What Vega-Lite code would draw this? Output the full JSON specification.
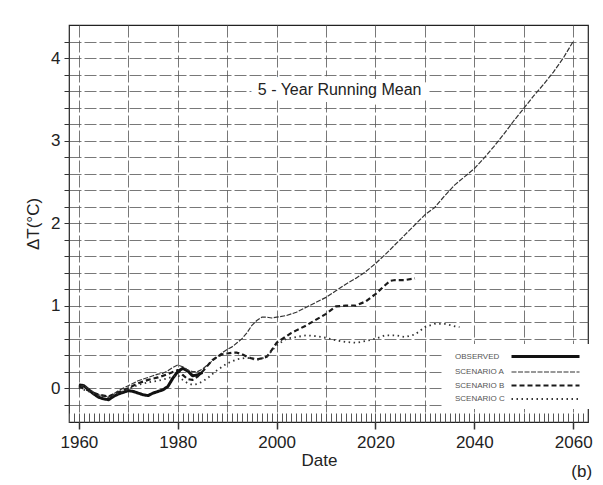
{
  "$schema": "https://vega.github.io/schema/vega-lite/v6.json",
  "autosize": {"type": "none"},
  "padding": {"left": 69, "top": 25, "right": 15, "bottom": 63},
  "width": 519,
  "height": 397,
  "background": "white",
  "title": {"text": "(b)", "orient": "bottom", "anchor": "end", "fontSize": 17, "fontWeight": "normal", "font": "Liberation Sans", "color": "#222", "offset": -4},
  "config": {
    "view": {"stroke": "#222", "strokeWidth": 1.2},
    "axis": {"labelFont": "Liberation Sans", "titleFont": "Liberation Sans", "labelColor": "#222", "titleColor": "#222", "labelFontSize": 17, "titleFontSize": 17, "titleFontWeight": "normal", "domain": false, "tickColor": "#333", "gridColor": "#555", "gridWidth": 0.8, "gridDash": [12, 3]},
    "legend": {"orient": "none", "legendX": 375, "legendY": 319, "symbolType": "M11,0H24.6", "symbolSize": 100, "labelAlign": "left", "labelOffset": -8, "labelFont": "Liberation Sans", "labelFontSize": 8, "labelColor": "#555", "fillColor": "white", "padding": 6, "rowPadding": 3}
  },
  "datasets": {
    "series": [
      {"series": "OBSERVED", "year": 1960, "dT": 0.04},
      {"series": "OBSERVED", "year": 1961, "dT": 0.03},
      {"series": "OBSERVED", "year": 1962, "dT": -0.02},
      {"series": "OBSERVED", "year": 1963, "dT": -0.07},
      {"series": "OBSERVED", "year": 1964, "dT": -0.11},
      {"series": "OBSERVED", "year": 1965, "dT": -0.13},
      {"series": "OBSERVED", "year": 1966, "dT": -0.14},
      {"series": "OBSERVED", "year": 1967, "dT": -0.1},
      {"series": "OBSERVED", "year": 1968, "dT": -0.07},
      {"series": "OBSERVED", "year": 1969, "dT": -0.05},
      {"series": "OBSERVED", "year": 1970, "dT": -0.03},
      {"series": "OBSERVED", "year": 1971, "dT": -0.04},
      {"series": "OBSERVED", "year": 1972, "dT": -0.06},
      {"series": "OBSERVED", "year": 1973, "dT": -0.08},
      {"series": "OBSERVED", "year": 1974, "dT": -0.09},
      {"series": "OBSERVED", "year": 1975, "dT": -0.06},
      {"series": "OBSERVED", "year": 1976, "dT": -0.04},
      {"series": "OBSERVED", "year": 1977, "dT": -0.02},
      {"series": "OBSERVED", "year": 1978, "dT": 0.02},
      {"series": "OBSERVED", "year": 1979, "dT": 0.12},
      {"series": "OBSERVED", "year": 1980, "dT": 0.2},
      {"series": "OBSERVED", "year": 1981, "dT": 0.24},
      {"series": "OBSERVED", "year": 1982, "dT": 0.21},
      {"series": "OBSERVED", "year": 1983, "dT": 0.15},
      {"series": "OBSERVED", "year": 1984, "dT": 0.16},
      {"series": "OBSERVED", "year": 1985, "dT": 0.19},
      {"series": "SCENARIO A", "year": 1960, "dT": 0.02},
      {"series": "SCENARIO A", "year": 1961, "dT": 0.03},
      {"series": "SCENARIO A", "year": 1962, "dT": -0.01},
      {"series": "SCENARIO A", "year": 1963, "dT": -0.05},
      {"series": "SCENARIO A", "year": 1964, "dT": -0.08},
      {"series": "SCENARIO A", "year": 1965, "dT": -0.1},
      {"series": "SCENARIO A", "year": 1966, "dT": -0.1},
      {"series": "SCENARIO A", "year": 1967, "dT": -0.07},
      {"series": "SCENARIO A", "year": 1968, "dT": -0.03},
      {"series": "SCENARIO A", "year": 1969, "dT": 0.0},
      {"series": "SCENARIO A", "year": 1970, "dT": 0.03},
      {"series": "SCENARIO A", "year": 1971, "dT": 0.06},
      {"series": "SCENARIO A", "year": 1972, "dT": 0.09},
      {"series": "SCENARIO A", "year": 1973, "dT": 0.11},
      {"series": "SCENARIO A", "year": 1974, "dT": 0.13},
      {"series": "SCENARIO A", "year": 1975, "dT": 0.15},
      {"series": "SCENARIO A", "year": 1976, "dT": 0.17},
      {"series": "SCENARIO A", "year": 1977, "dT": 0.18},
      {"series": "SCENARIO A", "year": 1978, "dT": 0.21},
      {"series": "SCENARIO A", "year": 1979, "dT": 0.25},
      {"series": "SCENARIO A", "year": 1980, "dT": 0.28},
      {"series": "SCENARIO A", "year": 1981, "dT": 0.26},
      {"series": "SCENARIO A", "year": 1982, "dT": 0.22},
      {"series": "SCENARIO A", "year": 1983, "dT": 0.2},
      {"series": "SCENARIO A", "year": 1984, "dT": 0.2},
      {"series": "SCENARIO A", "year": 1985, "dT": 0.23},
      {"series": "SCENARIO A", "year": 1986, "dT": 0.28},
      {"series": "SCENARIO A", "year": 1987, "dT": 0.33},
      {"series": "SCENARIO A", "year": 1988, "dT": 0.38},
      {"series": "SCENARIO A", "year": 1989, "dT": 0.43},
      {"series": "SCENARIO A", "year": 1990, "dT": 0.47},
      {"series": "SCENARIO A", "year": 1991, "dT": 0.5},
      {"series": "SCENARIO A", "year": 1992, "dT": 0.55},
      {"series": "SCENARIO A", "year": 1993, "dT": 0.6},
      {"series": "SCENARIO A", "year": 1994, "dT": 0.67},
      {"series": "SCENARIO A", "year": 1995, "dT": 0.76},
      {"series": "SCENARIO A", "year": 1996, "dT": 0.82},
      {"series": "SCENARIO A", "year": 1997, "dT": 0.86},
      {"series": "SCENARIO A", "year": 1998, "dT": 0.86},
      {"series": "SCENARIO A", "year": 1999, "dT": 0.85},
      {"series": "SCENARIO A", "year": 2000, "dT": 0.86},
      {"series": "SCENARIO A", "year": 2002, "dT": 0.88},
      {"series": "SCENARIO A", "year": 2004, "dT": 0.92},
      {"series": "SCENARIO A", "year": 2006, "dT": 0.98},
      {"series": "SCENARIO A", "year": 2008, "dT": 1.04},
      {"series": "SCENARIO A", "year": 2010, "dT": 1.1},
      {"series": "SCENARIO A", "year": 2012, "dT": 1.18},
      {"series": "SCENARIO A", "year": 2014, "dT": 1.26},
      {"series": "SCENARIO A", "year": 2016, "dT": 1.33},
      {"series": "SCENARIO A", "year": 2018, "dT": 1.41},
      {"series": "SCENARIO A", "year": 2020, "dT": 1.51},
      {"series": "SCENARIO A", "year": 2022, "dT": 1.62},
      {"series": "SCENARIO A", "year": 2024, "dT": 1.74},
      {"series": "SCENARIO A", "year": 2026, "dT": 1.86},
      {"series": "SCENARIO A", "year": 2028, "dT": 1.98},
      {"series": "SCENARIO A", "year": 2030, "dT": 2.1},
      {"series": "SCENARIO A", "year": 2032, "dT": 2.19},
      {"series": "SCENARIO A", "year": 2034, "dT": 2.33},
      {"series": "SCENARIO A", "year": 2036, "dT": 2.46},
      {"series": "SCENARIO A", "year": 2038, "dT": 2.56},
      {"series": "SCENARIO A", "year": 2040, "dT": 2.66},
      {"series": "SCENARIO A", "year": 2042, "dT": 2.79},
      {"series": "SCENARIO A", "year": 2044, "dT": 2.93},
      {"series": "SCENARIO A", "year": 2046, "dT": 3.08},
      {"series": "SCENARIO A", "year": 2048, "dT": 3.24},
      {"series": "SCENARIO A", "year": 2050, "dT": 3.39},
      {"series": "SCENARIO A", "year": 2052, "dT": 3.54},
      {"series": "SCENARIO A", "year": 2054, "dT": 3.68},
      {"series": "SCENARIO A", "year": 2056, "dT": 3.83},
      {"series": "SCENARIO A", "year": 2058, "dT": 4.0},
      {"series": "SCENARIO A", "year": 2060, "dT": 4.2},
      {"series": "SCENARIO B", "year": 1960, "dT": 0.02},
      {"series": "SCENARIO B", "year": 1962, "dT": -0.03},
      {"series": "SCENARIO B", "year": 1964, "dT": -0.08},
      {"series": "SCENARIO B", "year": 1966, "dT": -0.1},
      {"series": "SCENARIO B", "year": 1968, "dT": -0.05},
      {"series": "SCENARIO B", "year": 1970, "dT": 0.0},
      {"series": "SCENARIO B", "year": 1972, "dT": 0.06},
      {"series": "SCENARIO B", "year": 1974, "dT": 0.1},
      {"series": "SCENARIO B", "year": 1976, "dT": 0.13},
      {"series": "SCENARIO B", "year": 1978, "dT": 0.17},
      {"series": "SCENARIO B", "year": 1980, "dT": 0.22},
      {"series": "SCENARIO B", "year": 1981, "dT": 0.16},
      {"series": "SCENARIO B", "year": 1982, "dT": 0.11},
      {"series": "SCENARIO B", "year": 1983, "dT": 0.1},
      {"series": "SCENARIO B", "year": 1984, "dT": 0.14},
      {"series": "SCENARIO B", "year": 1985, "dT": 0.2},
      {"series": "SCENARIO B", "year": 1986, "dT": 0.27},
      {"series": "SCENARIO B", "year": 1987, "dT": 0.34},
      {"series": "SCENARIO B", "year": 1988, "dT": 0.38},
      {"series": "SCENARIO B", "year": 1989, "dT": 0.41},
      {"series": "SCENARIO B", "year": 1990, "dT": 0.42},
      {"series": "SCENARIO B", "year": 1991, "dT": 0.43},
      {"series": "SCENARIO B", "year": 1992, "dT": 0.43},
      {"series": "SCENARIO B", "year": 1993, "dT": 0.41},
      {"series": "SCENARIO B", "year": 1994, "dT": 0.38},
      {"series": "SCENARIO B", "year": 1995, "dT": 0.36},
      {"series": "SCENARIO B", "year": 1996, "dT": 0.35},
      {"series": "SCENARIO B", "year": 1997, "dT": 0.36},
      {"series": "SCENARIO B", "year": 1998, "dT": 0.38},
      {"series": "SCENARIO B", "year": 1999, "dT": 0.46},
      {"series": "SCENARIO B", "year": 2000, "dT": 0.55},
      {"series": "SCENARIO B", "year": 2001, "dT": 0.59},
      {"series": "SCENARIO B", "year": 2002, "dT": 0.63},
      {"series": "SCENARIO B", "year": 2003, "dT": 0.67},
      {"series": "SCENARIO B", "year": 2004, "dT": 0.7},
      {"series": "SCENARIO B", "year": 2006, "dT": 0.76},
      {"series": "SCENARIO B", "year": 2008, "dT": 0.83},
      {"series": "SCENARIO B", "year": 2010, "dT": 0.9},
      {"series": "SCENARIO B", "year": 2012, "dT": 0.99},
      {"series": "SCENARIO B", "year": 2014, "dT": 1.0},
      {"series": "SCENARIO B", "year": 2016, "dT": 1.0},
      {"series": "SCENARIO B", "year": 2018, "dT": 1.05},
      {"series": "SCENARIO B", "year": 2020, "dT": 1.14},
      {"series": "SCENARIO B", "year": 2022, "dT": 1.25},
      {"series": "SCENARIO B", "year": 2023, "dT": 1.3},
      {"series": "SCENARIO B", "year": 2024, "dT": 1.31},
      {"series": "SCENARIO B", "year": 2026, "dT": 1.31},
      {"series": "SCENARIO B", "year": 2028, "dT": 1.33},
      {"series": "SCENARIO C", "year": 1960, "dT": 0.0},
      {"series": "SCENARIO C", "year": 1962, "dT": -0.04},
      {"series": "SCENARIO C", "year": 1964, "dT": -0.09},
      {"series": "SCENARIO C", "year": 1966, "dT": -0.11},
      {"series": "SCENARIO C", "year": 1968, "dT": -0.06},
      {"series": "SCENARIO C", "year": 1970, "dT": -0.01},
      {"series": "SCENARIO C", "year": 1972, "dT": 0.04},
      {"series": "SCENARIO C", "year": 1974, "dT": 0.07},
      {"series": "SCENARIO C", "year": 1976, "dT": 0.09},
      {"series": "SCENARIO C", "year": 1978, "dT": 0.12},
      {"series": "SCENARIO C", "year": 1980, "dT": 0.16},
      {"series": "SCENARIO C", "year": 1981, "dT": 0.1},
      {"series": "SCENARIO C", "year": 1982, "dT": 0.06},
      {"series": "SCENARIO C", "year": 1983, "dT": 0.04},
      {"series": "SCENARIO C", "year": 1984, "dT": 0.05},
      {"series": "SCENARIO C", "year": 1985, "dT": 0.08},
      {"series": "SCENARIO C", "year": 1986, "dT": 0.12},
      {"series": "SCENARIO C", "year": 1987, "dT": 0.17},
      {"series": "SCENARIO C", "year": 1988, "dT": 0.22},
      {"series": "SCENARIO C", "year": 1990, "dT": 0.3},
      {"series": "SCENARIO C", "year": 1992, "dT": 0.35},
      {"series": "SCENARIO C", "year": 1994, "dT": 0.37},
      {"series": "SCENARIO C", "year": 1996, "dT": 0.34},
      {"series": "SCENARIO C", "year": 1998, "dT": 0.38},
      {"series": "SCENARIO C", "year": 2000, "dT": 0.52},
      {"series": "SCENARIO C", "year": 2002, "dT": 0.6},
      {"series": "SCENARIO C", "year": 2004, "dT": 0.62},
      {"series": "SCENARIO C", "year": 2006, "dT": 0.64},
      {"series": "SCENARIO C", "year": 2008, "dT": 0.63},
      {"series": "SCENARIO C", "year": 2010, "dT": 0.61},
      {"series": "SCENARIO C", "year": 2012, "dT": 0.58},
      {"series": "SCENARIO C", "year": 2014, "dT": 0.56},
      {"series": "SCENARIO C", "year": 2016, "dT": 0.55},
      {"series": "SCENARIO C", "year": 2018, "dT": 0.57},
      {"series": "SCENARIO C", "year": 2020, "dT": 0.6},
      {"series": "SCENARIO C", "year": 2022, "dT": 0.64},
      {"series": "SCENARIO C", "year": 2024, "dT": 0.64},
      {"series": "SCENARIO C", "year": 2026, "dT": 0.62},
      {"series": "SCENARIO C", "year": 2028, "dT": 0.65},
      {"series": "SCENARIO C", "year": 2030, "dT": 0.74},
      {"series": "SCENARIO C", "year": 2032, "dT": 0.78},
      {"series": "SCENARIO C", "year": 2034, "dT": 0.78},
      {"series": "SCENARIO C", "year": 2036, "dT": 0.75},
      {"series": "SCENARIO C", "year": 2037, "dT": 0.74}
    ],
    "notes": [
      {"label": "5 - Year  Running  Mean", "year": 1996.2, "dT": 3.61}
    ]
  },
  "resolve": {"axis": {"x": "independent"}},
  "layer": [
    {
      "data": {"name": "series"},
      "mark": {"type": "line", "strokeCap": "butt", "strokeJoin": "round"},
      "encoding": {
        "x": {"field": "year", "type": "quantitative", "scale": {"domain": [1958, 2063], "nice": false, "zero": false},
          "axis": {"orient": "bottom", "title": "Date", "values": [1960,1970,1980,1990,2000,2010,2020,2030,2040,2050,2060], "format": "d",
            "labelExpr": "datum.value % 20 === 0 ? datum.label : ''",
            "tickOpacity": {"condition": {"test": "datum.value % 20 === 0", "value": 1}, "value": 0},
            "tickSize": 7, "tickWidth": 1.5, "labelPadding": 5, "titlePadding": 2, "titleX": 250}},
        "y": {"field": "dT", "type": "quantitative", "scale": {"domain": [-0.41, 4.4], "nice": false, "zero": false},
          "axis": {"title": "ΔT(°C)", "values": [-0.2,0,0.2,0.4,0.6,0.8,1,1.2,1.4,1.6,1.8,2,2.2,2.4,2.6,2.8,3,3.2,3.4,3.6,3.8,4,4.2],
            "labelExpr": "abs(datum.value - round(datum.value)) < 0.01 ? format(datum.value, 'd') : ''",
            "tickSize": 5, "labelPadding": 4, "titlePadding": 8}},
        "color": {"field": "series", "type": "nominal", "scale": {"domain": ["OBSERVED", "SCENARIO A", "SCENARIO B", "SCENARIO C"], "range": ["#111111", "#333333", "#1a1a1a", "#333333"]}, "legend": {"title": null}},
        "strokeDash": {"field": "series", "type": "nominal", "scale": {"domain": ["OBSERVED", "SCENARIO A", "SCENARIO B", "SCENARIO C"], "range": [[1, 0], [5, 1.5], [5, 3], [1.5, 3.5]]}, "legend": {"title": null}},
        "strokeWidth": {"field": "series", "type": "nominal", "scale": {"type": "ordinal", "domain": ["OBSERVED", "SCENARIO A", "SCENARIO B", "SCENARIO C"], "range": [3, 1.2, 2.2, 1.8]}, "legend": {"title": null}}
      }
    },
    {
      "data": {"name": "series"},
      "mark": {"type": "line", "opacity": 0},
      "encoding": {
        "x": {"field": "year", "type": "quantitative", "scale": {"domain": [1958, 2063], "nice": false, "zero": false},
          "axis": {"orient": "bottom", "values": [1958,1959,1960,1961,1962,1963,1964,1965,1966,1967,1968,1969,1970,1971,1972,1973,1974,1975,1976,1977,1978,1979,1980,1981,1982,1983,1984,1985,1986,1987,1988,1989,1990,1991,1992,1993,1994,1995,1996,1997,1998,1999,2000,2001,2002,2003,2004,2005,2006,2007,2008,2009,2010,2011,2012,2013,2014,2015,2016,2017,2018,2019,2020,2021,2022,2023,2024,2025,2026,2027,2028,2029,2030,2031,2032,2033,2034,2035,2036,2037,2038,2039,2040,2041,2042,2043,2044,2045,2046,2047,2048,2049,2050,2051,2052,2053,2054,2055,2056,2057,2058,2059,2060,2061,2062],
            "labels": false, "grid": false, "title": null, "tickSize": 9, "offset": -9, "tickColor": "#555", "tickWidth": 1}},
        "y": {"field": "dT", "type": "quantitative", "scale": {"domain": [-0.41, 4.4], "nice": false, "zero": false},
          "axis": {"title": "ΔT(°C)", "values": [-0.2,0,0.2,0.4,0.6,0.8,1,1.2,1.4,1.6,1.8,2,2.2,2.4,2.6,2.8,3,3.2,3.4,3.6,3.8,4,4.2],
            "labelExpr": "abs(datum.value - round(datum.value)) < 0.01 ? format(datum.value, 'd') : ''",
            "tickSize": 5, "labelPadding": 4, "titlePadding": 8}}
      }
    },
    {
      "data": {"name": "notes"},
      "mark": {"type": "text", "align": "left", "baseline": "middle", "font": "Liberation Sans", "fontSize": 16, "fill": "white", "stroke": "white", "strokeWidth": 14, "strokeJoin": "round"},
      "encoding": {
        "x": {"field": "year", "type": "quantitative", "axis": null},
        "y": {"field": "dT", "type": "quantitative", "scale": {"domain": [-0.41, 4.4], "nice": false, "zero": false},
          "axis": {"title": "ΔT(°C)", "values": [-0.2,0,0.2,0.4,0.6,0.8,1,1.2,1.4,1.6,1.8,2,2.2,2.4,2.6,2.8,3,3.2,3.4,3.6,3.8,4,4.2],
            "labelExpr": "abs(datum.value - round(datum.value)) < 0.01 ? format(datum.value, 'd') : ''",
            "tickSize": 5, "labelPadding": 4, "titlePadding": 8}},
        "text": {"field": "label"}
      }
    },
    {
      "data": {"name": "notes"},
      "mark": {"type": "text", "align": "left", "baseline": "middle", "font": "Liberation Sans", "fontSize": 16, "color": "#222"},
      "encoding": {
        "x": {"field": "year", "type": "quantitative", "axis": null},
        "y": {"field": "dT", "type": "quantitative", "scale": {"domain": [-0.41, 4.4], "nice": false, "zero": false},
          "axis": {"title": "ΔT(°C)", "values": [-0.2,0,0.2,0.4,0.6,0.8,1,1.2,1.4,1.6,1.8,2,2.2,2.4,2.6,2.8,3,3.2,3.4,3.6,3.8,4,4.2],
            "labelExpr": "abs(datum.value - round(datum.value)) < 0.01 ? format(datum.value, 'd') : ''",
            "tickSize": 5, "labelPadding": 4, "titlePadding": 8}},
        "text": {"field": "label"}
      }
    }
  ]
}
